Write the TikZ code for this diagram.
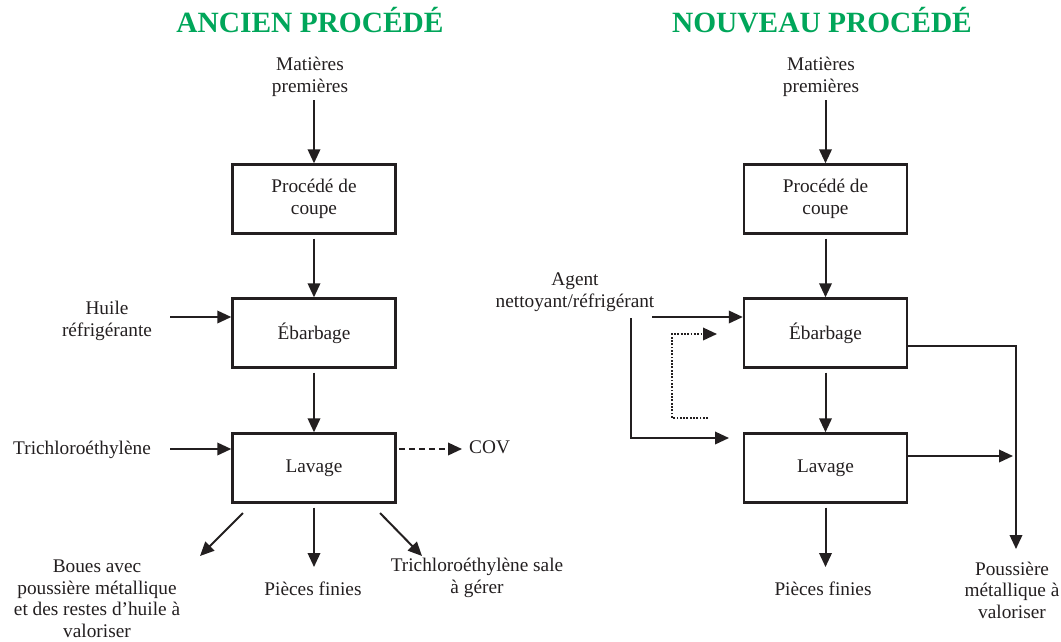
\documentclass[tikz,border=0pt]{standalone}
\usepackage{fontspec}
\setmainfont{Liberation Serif}
\usetikzlibrary{arrows.meta}
\definecolor{ink}{RGB}{35,31,32}
\definecolor{titlegreen}{RGB}{0,166,90}
\newcommand{\dtxt}{\fontsize{19.3}{21.5}\selectfont}
\newcommand{\dttl}{\fontsize{29.4}{32}\selectfont\bfseries}
\begin{document}
\begin{tikzpicture}[x=1pt,y=-1pt,
  box/.style={draw=ink, line width=2.4pt, minimum width=163pt, minimum height=69pt, inner sep=0pt, align=center, font=\dtxt, text=ink},
  lbl/.style={align=center, font=\dtxt, text=ink, inner sep=0pt},
  ttl/.style={font=\dttl, text=titlegreen, inner sep=0pt},
  arr/.style={draw=ink, line width=2pt, -{Triangle[length=14pt,width=12.5pt]}},
  dashedarr/.style={arr, dash pattern=on 6pt off 4pt},
  dottedarr/.style={arr, dash pattern=on 1.8pt off 1.5pt}]
\path[use as bounding box, fill=white] (0,0) rectangle (1061,641);

% ---------------- Titles
\node[ttl, anchor=base] (t1) at (310,32) {ANCIEN PROCÉDÉ};
\node[ttl, anchor=base] (t2) at (822,32) {NOUVEAU PROCÉDÉ};

% ---------------- Left: ancien procédé
\node[lbl] (mp1) at (310,77) {Matières\\premières};
\node[box] (pc1) at (314,199) {Procédé de\\coupe};
\node[box] (eb1) at (314,333) {Ébarbage};
\node[box] (lv1) at (314,468) {Lavage};
\node[lbl] (hr) at (107,321) {Huile\\réfrigérante};
\node[lbl] (tce) at (82,450) {Trichloroéthylène};
\node[lbl, anchor=west] (cov) at (469,447) {COV};
\node[lbl] (boues) at (97,599) {Boues avec\\poussière métallique\\et des restes d’huile à\\valoriser};
\node[lbl] (pf1) at (313,589) {Pièces finies};
\node[lbl] (tsale) at (477,578) {Trichloroéthylène sale\\à gérer};

\coordinate (mp1a) at (314,100);
\coordinate (hra) at (170,317);
\coordinate (tcea) at (170,449);
\coordinate (cova) at (399,449);
\coordinate (covb) at (462,449);
\coordinate (d1s) at (243,513);
\coordinate (d1e) at (200,556);
\coordinate (d2s) at (380,513);
\coordinate (d2e) at (422,556);
\coordinate (pf1a) at (314,567);

\draw[arr] (mp1a) -- (pc1.north);
\draw[arr, shorten <=4pt] (pc1.south) -- (eb1.north);
\draw[arr, shorten <=4pt] (eb1.south) -- (lv1.north);
\draw[arr] (hra) -- (hra -| eb1.west);
\draw[arr] (tcea) -- (tcea -| lv1.west);
\draw[dashedarr] (cova) -- (covb);
\draw[arr] (d1s) -- (d1e);
\draw[arr] (d2s) -- (d2e);
\draw[arr, shorten <=4pt] (lv1.south) -- (pf1a);

% ---------------- Right: nouveau procédé
\node[lbl] (mp2) at (821,77) {Matières\\premières};
\node[box] (pc2) at (825.5,199) {Procédé de\\coupe};
\node[box] (eb2) at (825.5,333) {Ébarbage};
\node[box] (lv2) at (825.5,468) {Lavage};
\node[lbl] (ag) at (575,292) {Agent\\nettoyant/réfrigérant};
\node[lbl] (pf2) at (823,589) {Pièces finies};
\node[lbl] (pm) at (1012,590) {Poussière\\métallique à\\valoriser};

\coordinate (mp2a) at (825.5,100);
\coordinate (a1) at (652,317);
\coordinate (a2) at (631,318);
\coordinate (a2e) at (729,438);
\coordinate (r0) at (708,418);
\coordinate (r1) at (672,418);
\coordinate (r2) at (717,334);
\coordinate (pmtop) at (1016,549);
\coordinate (pf2a) at (825.5,567);

\draw[arr] (mp2a) -- (pc2.north);
\draw[arr, shorten <=4pt] (pc2.south) -- (eb2.north);
\draw[arr, shorten <=4pt] (eb2.south) -- (lv2.north);
\draw[arr] (a1) -- (a1 -| eb2.west);
\draw[arr] (a2) |- (a2e);
\draw[dottedarr] (r0) -- (r1) |- (r2);
\draw[arr] ([yshift=-13pt]eb2.east) -| (pmtop);
\draw[arr, shorten >=3pt] ([yshift=12pt]lv2.east) -- ([yshift=12pt]lv2.east -| pmtop);
\draw[arr, shorten <=4pt] (lv2.south) -- (pf2a);
\end{tikzpicture}
\end{document}
